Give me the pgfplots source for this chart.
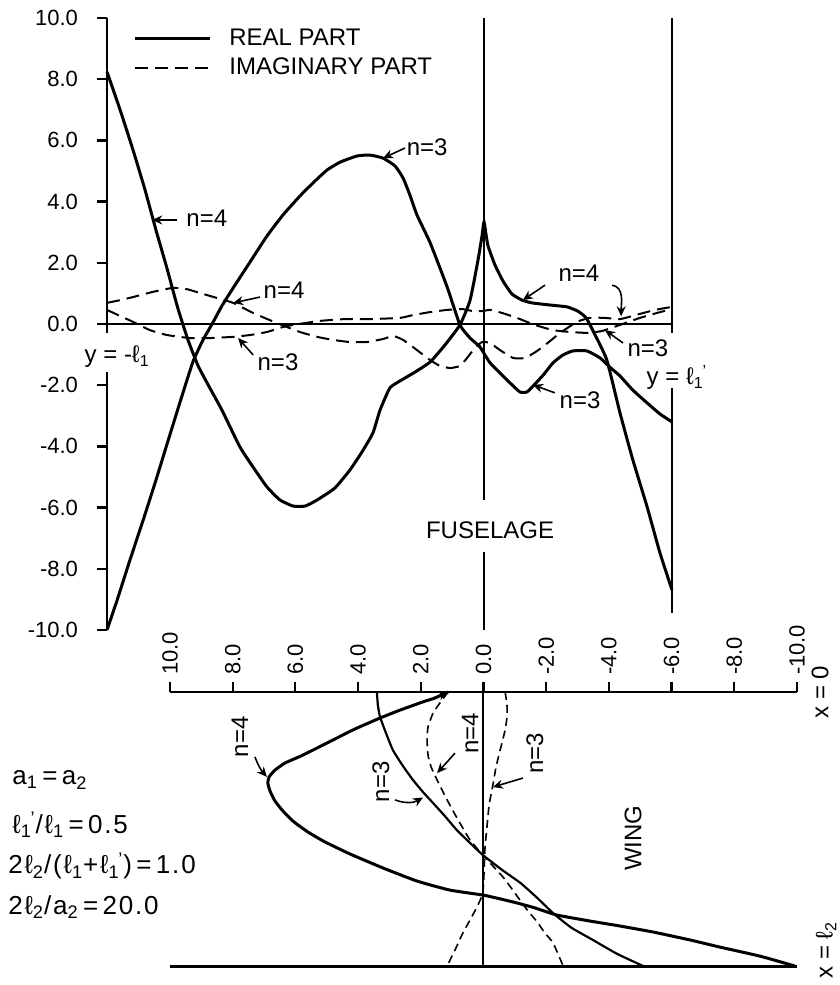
\documentclass[border=0pt]{standalone}
\usepackage{fontspec}
\setmainfont{Liberation Sans}
\usepackage{pgfplots}
\pgfplotsset{compat=1.18}
\usetikzlibrary{arrows.meta}
\newcommand{\sub}[1]{\textsubscript{#1}}
\newcommand{\lo}{ℓ\sub{1}}
\newcommand{\lop}{ℓ\sub{1}\kern-0.05em\textsuperscript{'}}
\newcommand{\lt}{ℓ\sub{2}}
\newcommand{\tfont}{\fontsize{11}{13}\selectfont}
\begin{document}
\begin{tikzpicture}[
  arr/.style={-{Stealth[length=5pt,width=4.5pt]}, line width=0.8pt},
  lab/.style={font=\fontsize{12}{14}\selectfont, inner sep=0pt},
  par/.style={font=\fontsize{13}{15}\selectfont\addfontfeature{LetterSpace=7}, inner sep=0pt, anchor=west},
  realc/.style={line width=1.5pt, smooth, tension=0.3},
  imagc/.style={line width=1pt, dash pattern=on 6.5pt off 3.5pt, smooth, tension=0.3},
]
\useasboundingbox (0,0) rectangle (420pt,492.5pt);
% ---------------- top: fuselage ----------------
\begin{axis}[
  at={(53.5pt,177.5pt)}, anchor=south west,
  width=282.5pt, height=306pt, scale only axis,
  xmin=-1, xmax=0.5, ymin=-10, ymax=10,
  clip=false,
  axis line style={draw=none},
  xtick=\empty,
  ytick={-10,-8,-6,-4,-2,0,2,4,6,8,10},
  yticklabels={-10.0,-8.0,-6.0,-4.0,-2.0,0.0,2.0,4.0,6.0,8.0,10.0},
  ytick pos=left,
  tick align=outside,
  major tick length=5pt,
  tick style={line width=1.2pt, black},
  yticklabel style={font=\tfont, anchor=east, xshift=-6pt},
  legend style={draw=none, fill=none, at={(0.046,0.99)}, anchor=north west,
    font=\fontsize{12}{14}\selectfont, row sep=1pt, inner sep=0pt},
  legend cell align=left,
  legend image code/.code={\draw[#1] (0pt,0pt) -- (37.5pt,0pt);},
]
\addlegendimage{line width=1.5pt}
\addlegendentry{\hspace*{7pt}REAL PART}
\addlegendimage{line width=1pt, dash pattern=on 6.5pt off 3.5pt}
\addlegendentry{\hspace*{7pt}IMAGINARY PART}
% frame lines
\draw[line width=1.4pt] (axis cs:-1,10) -- (axis cs:-1,-0.3);
\draw[line width=1.4pt] (axis cs:-1,-1.57) -- (axis cs:-1,-10);
\draw[line width=1.4pt] (axis cs:-1,0) -- (axis cs:0.5,0);
\draw[line width=1.1pt] (axis cs:0,10) -- (axis cs:0,-5.75);
\draw[line width=1.1pt] (axis cs:0,-7.45) -- (axis cs:0,-10);
\draw[line width=1.2pt] (axis cs:0.5,10) -- (axis cs:0.5,-0.3);
\draw[line width=1.2pt] (axis cs:0.5,-2.09) -- (axis cs:0.5,-9.44);
% real n=4
\addplot[realc] coordinates {
(-1.000,8.24) (-0.965,6.99) (-0.931,5.69) (-0.899,4.38) (-0.870,3.07)
(-0.841,1.83) (-0.812,0.52) (-0.785,-0.52) (-0.758,-1.37) (-0.727,-2.09)
(-0.695,-2.81) (-0.647,-4.02) (-0.607,-4.77) (-0.575,-5.33) (-0.541,-5.75)
(-0.506,-5.95) (-0.474,-5.95) (-0.442,-5.75) (-0.395,-5.36) (-0.355,-4.77)
(-0.323,-4.18) (-0.294,-3.56) (-0.275,-2.81) (-0.249,-2.09) (-0.222,-1.86)
(-0.182,-1.57) (-0.142,-1.24) (-0.103,-0.69) (-0.063,-0.03) (-0.036,0.78)
(-0.015,2.09) (-0.004,2.91) (0.001,3.33) (0.011,2.58) (0.030,1.93)
(0.051,1.41) (0.075,0.98) (0.102,0.78) (0.128,0.69) (0.176,0.62)
(0.221,0.56) (0.250,0.42) (0.272,0.20) (0.296,-0.36) (0.327,-1.18)
(0.362,-2.91) (0.396,-4.44) (0.434,-5.98) (0.468,-7.48) (0.500,-8.69)
};
% real n=3
\addplot[realc] coordinates {
(-1.000,-10.00) (-0.973,-9.02) (-0.939,-7.71) (-0.904,-6.41) (-0.870,-5.10)
(-0.838,-3.82) (-0.806,-2.55) (-0.772,-1.24) (-0.745,-0.52) (-0.721,0.00)
(-0.695,0.59) (-0.665,1.18) (-0.620,2.03) (-0.575,2.88) (-0.533,3.56)
(-0.488,4.18) (-0.453,4.61) (-0.416,5.03) (-0.381,5.29) (-0.336,5.49)
(-0.302,5.52) (-0.267,5.42) (-0.235,5.16) (-0.214,4.77) (-0.196,4.22)
(-0.177,3.56) (-0.142,2.65) (-0.097,1.21) (-0.063,-0.03) (-0.036,-0.46)
(-0.010,-0.75) (0.017,-1.27) (0.062,-1.83) (0.096,-2.22) (0.115,-2.22)
(0.131,-2.03) (0.158,-1.67) (0.184,-1.27) (0.211,-1.01) (0.237,-0.88)
(0.274,-0.88) (0.309,-1.11) (0.335,-1.41) (0.362,-1.70) (0.396,-2.16)
(0.434,-2.58) (0.468,-2.94) (0.500,-3.20)
};
% imaginary n=4
\addplot[imagc] coordinates {
(-1.000,0.69) (-0.965,0.78) (-0.931,0.88) (-0.878,1.05) (-0.825,1.18)
(-0.788,1.14) (-0.753,1.01) (-0.708,0.85) (-0.665,0.69) (-0.612,0.36)
(-0.549,0.03) (-0.488,-0.26) (-0.442,-0.42) (-0.400,-0.52) (-0.355,-0.59)
(-0.310,-0.59) (-0.267,-0.49) (-0.240,-0.39) (-0.214,-0.52) (-0.188,-0.75)
(-0.142,-1.18) (-0.116,-1.37) (-0.089,-1.44) (-0.063,-1.37) (-0.044,-1.11)
(-0.023,-0.78) (-0.004,-0.59) (0.017,-0.62) (0.043,-0.85) (0.078,-1.11)
(0.110,-1.11) (0.142,-0.88) (0.176,-0.56) (0.203,-0.29) (0.248,0.07)
(0.282,0.20) (0.322,0.20) (0.362,0.16) (0.415,0.33) (0.455,0.46)
(0.500,0.56)
};
% imaginary n=3
\addplot[imagc] coordinates {
(-1.000,0.46) (-0.965,0.26) (-0.931,0.07) (-0.886,-0.20) (-0.841,-0.36)
(-0.780,-0.46) (-0.727,-0.46) (-0.665,-0.42) (-0.620,-0.36) (-0.575,-0.26)
(-0.533,-0.10) (-0.506,-0.03) (-0.435,0.10) (-0.368,0.16) (-0.302,0.16)
(-0.222,0.20) (-0.188,0.29) (-0.142,0.39) (-0.097,0.46) (-0.058,0.49)
(-0.028,0.42) (-0.004,0.42) (0.017,0.46) (0.049,0.36) (0.088,0.20)
(0.136,-0.03) (0.184,-0.20) (0.229,-0.26) (0.274,-0.29) (0.314,-0.23)
(0.362,-0.03) (0.415,0.20) (0.460,0.36) (0.500,0.49)
};
% annotations
\node[lab] at (axis cs:-0.150,5.78) {n=3};
\draw[arr] (axis cs:-0.209,5.75) -- (axis cs:-0.267,5.42);
\node[lab] at (axis cs:-0.735,3.46) {n=4};
\draw[arr] (axis cs:-0.814,3.40) -- (axis cs:-0.880,3.40);
\node[lab] at (axis cs:-0.530,1.11) {n=4};
\draw[arr] (axis cs:-0.594,0.88) -- (axis cs:-0.665,0.69);
\node[lab] at (axis cs:-0.546,-1.24) {n=3};
\draw[arr] (axis cs:-0.612,-1.01) -- (axis cs:-0.652,-0.46);
\node[lab] at (axis cs:0.253,1.67) {n=4};
\draw[arr] (axis cs:0.163,1.27) -- (axis cs:0.104,0.78);
\draw[arr] (axis cs:0.341,1.27) to[out=-10,in=90] (axis cs:0.365,0.25);
\node[lab] at (axis cs:0.436,-0.78) {n=3};
\draw[arr] (axis cs:0.370,-0.62) -- (axis cs:0.322,-0.20);
\node[lab] at (axis cs:0.256,-2.48) {n=3};
\draw[arr] (axis cs:0.189,-2.25) -- (axis cs:0.131,-1.99);
\node[lab] at (axis cs:-0.973,-1.08) {y = -\lo};
\node[lab] at (axis cs:0.513,-1.75) {y = \lop};
\node[lab] at (axis cs:0.017,-6.73) {FUSELAGE};
\end{axis}
% ---------------- bottom: wing ----------------
\begin{axis}[
  at={(85pt,9.5pt)}, anchor=south west,
  width=313.5pt, height=137pt, scale only axis,
  xmin=-10, xmax=10, x dir=reverse,
  ymin=0, ymax=1, y dir=reverse,
  clip=false,
  axis line style={draw=none},
  ytick=\empty,
  xtick={-10,-8,-6,-4,-2,0,2,4,6,8,10},
  xticklabels={-10.0,-8.0,-6.0,-4.0,-2.0,0.0,2.0,4.0,6.0,8.0,10.0},
  xtick pos=right, xticklabel pos=right,
  tick align=outside,
  major tick length=5pt,
  tick style={line width=1.1pt, black},
  xticklabel style={font=\tfont, rotate=90, anchor=west},
]
\draw[line width=1.4pt] (axis cs:10,0) -- (axis cs:-10,0);
\draw[line width=1.5pt] (axis cs:10,1) -- (axis cs:-10,1);
\draw[line width=1pt] (axis cs:0,0) -- (axis cs:0,1);
% real n=3
\addplot[line width=1.1pt, smooth, tension=0.3] coordinates {
(3.40,0) (3.37,0.047) (3.30,0.091) (3.11,0.150) (2.89,0.212) (2.57,0.270)
(2.25,0.321) (1.93,0.365) (1.61,0.405) (1.23,0.453) (0.85,0.504) (0.43,0.551)
(0.02,0.595) (-0.60,0.650) (-1.18,0.697) (-1.70,0.750) (-2.22,0.807)
(-2.80,0.860) (-3.49,0.905) (-4.25,0.955) (-5.09,1.0)
};
% real n=4
\addplot[line width=1.5pt, smooth, tension=0.3] coordinates {
(1.13,0) (1.55,0.022) (1.93,0.036) (2.66,0.066) (3.30,0.095) (4.10,0.135)
(4.80,0.175) (5.37,0.208) (5.85,0.235) (6.33,0.259) (6.65,0.285) (6.84,0.310)
(6.88,0.332) (6.81,0.361) (6.65,0.398) (6.40,0.434) (6.08,0.471) (5.60,0.511)
(5.06,0.547) (4.26,0.591) (3.21,0.642) (2.12,0.690) (1.07,0.723) (0.02,0.741)
(-0.53,0.755) (-1.07,0.770) (-1.64,0.788) (-2.34,0.814) (-3.40,0.836)
(-4.35,0.854) (-5.41,0.876) (-6.59,0.905) (-7.54,0.931) (-8.82,0.964) (-9.93,1.0)
};
% imaginary n=4
\addplot[line width=0.8pt, dash pattern=on 4pt off 2.5pt, smooth, tension=0.3] coordinates {
(1.13,0) (1.39,0.040) (1.61,0.077) (1.77,0.128) (1.80,0.175) (1.77,0.230)
(1.67,0.274) (1.48,0.321) (1.16,0.394) (0.81,0.467) (0.43,0.540) (0.02,0.595)
(-0.30,0.635) (-0.62,0.675) (-0.91,0.719) (-1.16,0.759) (-1.42,0.799)
(-1.71,0.839) (-1.96,0.880) (-2.22,0.916) (-2.54,1.0)
};
% imaginary n=3
\addplot[line width=0.8pt, dash pattern=on 4pt off 2.5pt, smooth, tension=0.3] coordinates {
(-0.69,0) (-0.75,0.047) (-0.75,0.091) (-0.69,0.139) (-0.53,0.212) (-0.40,0.274)
(-0.30,0.339) (-0.18,0.412) (-0.11,0.493) (-0.05,0.566) (-0.02,0.650)
(0.02,0.734) (0.21,0.785) (0.43,0.832) (0.69,0.887) (0.91,0.942) (1.16,1.0)
};
\draw[arr] (axis cs:1.6,0.022) -- (axis cs:1.13,0);
% annotations
\node[lab, rotate=90] at (axis cs:7.77,0.164) {n=4};
\draw[arr] (axis cs:7.29,0.237) to[bend right=10] (axis cs:6.91,0.310);
\node[lab, rotate=90] at (axis cs:3.27,0.328) {n=3};
\draw[arr] (axis cs:2.82,0.394) to[bend right=25] (axis cs:1.93,0.385);
\node[lab, rotate=90] at (axis cs:0.43,0.150) {n=4};
\draw[arr] (axis cs:0.91,0.223) -- (axis cs:1.48,0.296);
\node[lab, rotate=90] at (axis cs:-1.64,0.223) {n=3};
\draw[arr] (axis cs:-1.26,0.314) -- (axis cs:-0.30,0.347);
\node[lab, rotate=90] at (axis cs:-4.77,0.533) {WING};
\node[lab, rotate=90] at (axis cs:-10.74,0) {x = 0};
\node[lab, rotate=90] at (axis cs:-10.93,0.942) {x = \lt};
\node[par] at (axis cs:15.04,0.321) {a\sub{1}\,=\,a\sub{2}};
\node[par] at (axis cs:15.04,0.485) {\lop/\lo\,=\,0.5};
\node[par] at (axis cs:15.17,0.635) {2\lt/(\lo+\lop)\,=\,1.0};
\node[par] at (axis cs:15.17,0.785) {2\lt/a\sub{2}\,=\,20.0};
\end{axis}
\end{tikzpicture}
\end{document}
